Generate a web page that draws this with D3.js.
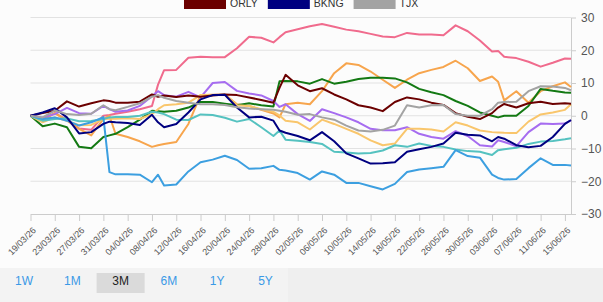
<!DOCTYPE html>
<html>
<head>
<meta charset="utf-8">
<script src="https://cdn.jsdelivr.net/npm/d3@7"></script>
<style>
body { margin: 0; background: #fcfcfc; font-family: "Liberation Sans", Arial, sans-serif; }
</style>
</head>
<body>
<script>
// day offsets from 19/03/26 (shared by every series)
var dayOffsets = [0,2,4,6,8,10,12,13,14,16,18,20,21,22,24,26,28,30,32,34,36,38,40,41,42,44,46,48,50,52,54,56,58,60,62,64,66,68,70,72,74,76,77,78,80,82,84,86,88,89];

// % change series
var pinkVals   = [0,-1,0.8,-1.2,-3.9,-4.3,0,0.2,0.6,1.2,2,3,9.5,13.9,14,17.7,18,17.9,17.9,20.6,24.1,23.8,22.4,24,25.5,26.4,27.3,28,27.2,26.3,25.8,25,24.2,24,25.3,24.8,24.8,24.6,27.6,25.8,23,19.6,19.8,18,17.6,16.5,15,16.2,17.5,17.4];
var orangeVals = [0,-1.5,0.8,-1.5,-4,-6,-1,0,-5.5,-6.5,-7.8,-9.5,-9,-8.6,-8,-2.5,6.3,6.4,6.5,3.5,3,1.8,0.7,-0.5,3.5,4,3.5,7.5,13,16,15.5,13.5,11,8.5,11,13,14,14.9,16.8,14.5,10.6,12,10.4,4.7,7.5,4,7.5,9,10.2,8.8];
var greenVals  = [0,-3.2,-2.4,-3.5,-9.5,-9.9,-6.5,-6,-5.5,-3.5,-1.2,1.5,1.4,1.2,1.5,2.5,4.2,4.2,3.7,3.2,3.8,3.2,2.8,10.5,10.6,10.5,9.8,11.2,9.8,10.4,11.2,11.6,11.6,11.4,10.2,8.2,7.2,6.3,4.5,3,1,0,-0.5,0,0,3,8.2,7.6,7.1,7];
var purpleVals = [0,-0.5,0.5,2.4,0.8,0.6,3,2,1.2,1.6,3,6,7.5,6.3,5.8,7.3,5.6,10,10.3,7.6,6.8,6.2,4.5,2.7,3.5,0.5,-1.6,2,0.8,-0.5,-2,-4,-4.4,-4.4,-3.5,-5.5,-6.5,-7,-4.7,-6.2,-9,-9.4,-7.5,-8,-9.3,-5,-2.4,-2.5,-2.4,-1.4];
var yellowVals = [0,-2,-0.5,-1.5,-2.9,-2.8,-1,-0.9,-0.9,-0.8,-1,0.5,2,3.2,3.5,4,6.3,6.3,6.4,3.2,3,2,1.2,0.1,-1.5,-2,-4.2,-1.2,-2.5,-4,-5.5,-7.5,-9,-8.5,-4,-4,-4.2,-4.8,-2,-3,-4.5,-5,-5.1,-5.2,-5.3,-1.8,0.4,1,1.8,3.5];
var tealVals   = [0,-1.5,-1,-0.8,-1.7,-1.6,-1,-0.5,-0.4,-0.4,0,1.2,1,0.5,-1.2,-1.3,0.4,0.2,-0.6,-1.8,-1,-3.5,-6.2,-4.5,-7.3,-7.6,-8,-8.6,-11,-11.2,-11.5,-11.4,-10.6,-9,-9.5,-8.5,-9.2,-9.5,-10.3,-10.8,-11,-12,-10.5,-10.2,-9.8,-8.6,-7.9,-7.7,-7.2,-6.9];
var blueVals   = [0,-1,-0.5,-1.5,-3,-2,-0.4,-17.2,-17.9,-17.9,-18,-20.3,-18,-21.3,-21,-17,-14.2,-13.4,-12.2,-13.5,-16.2,-16,-15.3,-16.5,-16.7,-17.5,-19.5,-17,-18,-20.5,-20.5,-21.5,-22.5,-20.8,-17.2,-16.4,-16,-15.6,-10.5,-12.3,-12.8,-18,-19,-19.5,-19.3,-16,-13,-15,-15,-15.2];
var orlyVals   = [0,0.8,1.5,4.4,2.8,3.8,4.7,4.5,4,4,4.3,6.5,5.8,6.2,5.7,6.2,5.8,6.2,6.5,6.3,5.6,4.8,4,8.5,12.5,9.3,7.5,8.4,6.5,5,3.2,2.5,1.4,4.2,5.6,5,4,3.3,0.8,-0.3,-1,0.8,2.5,3.6,2.5,3.8,4.3,3.6,3.8,3.7];
var bkngVals   = [0,1,2.3,-0.5,-5.4,-5,-2.5,-1.8,-2,-2.2,-2.8,0.3,-2,-3.5,-2.5,1,5,6.3,6.4,2.5,-0.5,-0.3,-1.5,-4.5,-5.2,-6.2,-7.5,-5,-7.8,-11.5,-13,-14.6,-14.5,-14.2,-11,-10.2,-9.5,-8.5,-5.2,-5.8,-6,-7.8,-6.5,-7,-9,-9.6,-9.2,-6.5,-2.5,-1.3];
var tjxVals    = [0,-0.5,1.6,0.5,0.2,0.6,3.2,2,1.7,2.7,3.8,5.8,6.3,5.5,4.5,4,3.5,3.5,3.3,2.6,2.2,2,1.8,1.5,1.2,0.3,0.5,-0.5,-1.2,-3,-4.5,-4.8,-4.3,-3,3.2,2.5,3.2,3.3,0.5,0,0,2,4,4.2,4.3,7.5,9,8.9,8.5,7.8];

var seriesNames  = ["s1","s2","s3","s4","s5","s6","s7","ORLY","BKNG","TJX"];
var seriesColors = ["#f06b8d","#f7a54d","#137913","#a66cf0","#f9c66c","#55c2c0","#3c9fe0","#6b0000","#000080","#a3a3a3"];
var seriesVals   = [pinkVals,orangeVals,greenVals,purpleVals,yellowVals,tealVals,blueVals,orlyVals,bkngVals,tjxVals];

var legendNames = ["ORLY","BKNG","TJX"];
var yTicks = [-30,-20,-10,0,10,20,30];
var rangeButtons = ["1W","1M","3M","6M","1Y","5Y"];
var selectedButton = "3M";

var startDate = new Date(2026, 2, 19);
var endDate = d3.timeDay.offset(startDate, 89);

var svg = d3.select("body").append("svg")
    .attr("width", 603)
    .attr("height", 302)
    .style("display", "block")

var x = d3.scaleTime().domain([startDate, endDate]).range([30.5, 571])
var y = d3.scaleLinear().domain([-30, 30]).range([214, 17.5])

// bottom band with range buttons
svg.append("rect").attr("x", 0).attr("y", 268).attr("width", 603).attr("height", 34).attr("fill", "#efefef")
svg.append("rect").attr("x", 0).attr("y", 268).attr("width", 288).attr("height", 34).attr("fill", "#f3f3f3")

// grid
svg.append("g").selectAll("line").data(yTicks.filter(function(d){ return d > -30 })).enter().append("line")
    .attr("x1", 30.5).attr("x2", 571)
    .attr("y1", function(d){ return y(d) }).attr("y2", function(d){ return y(d) })
    .attr("stroke", "#e2e2e2").attr("stroke-width", 1)

// right axis
var yAxis = svg.append("g")
    .attr("transform", "translate(571,0)")
    .call(d3.axisRight(y).tickValues(yTicks).tickSize(5).tickSizeOuter(0).tickPadding(5))
yAxis.select(".domain").attr("stroke", "#cccccc")
yAxis.selectAll(".tick line").attr("stroke", "#cccccc")
yAxis.selectAll("text").attr("fill", "#555").style("font-size", "12px").style("font-family", "Liberation Sans, Arial, sans-serif")

// bottom axis, a tick every 4 days
var xTickDates = []
for (i = 0; i <= 88; i += 4) {
    xTickDates.push(d3.timeDay.offset(startDate, i))
}
var xAxis = svg.append("g")
    .attr("transform", "translate(0,214)")
    .call(d3.axisBottom(x).tickValues(xTickDates).tickSize(7).tickSizeOuter(0).tickFormat(d3.timeFormat("%d/%m/%y")))
xAxis.select(".domain").attr("stroke", "#cccccc")
xAxis.selectAll(".tick line").attr("stroke", "#cccccc")
xAxis.selectAll("text")
    .attr("x", 0).attr("y", 0).attr("dy", 0)
    .attr("text-anchor", "end")
    .attr("transform", "translate(5.5,17) rotate(-45)")
    .attr("fill", "#555")
    .style("font-size", "9px")
    .style("font-family", "Liberation Sans, Arial, sans-serif")

// lines
var line = d3.line()
    .x(function(d){ return x(d3.timeDay.offset(startDate, d[0])) })
    .y(function(d){ return y(d[1]) })

for (s = 0; s < seriesVals.length; s++) {
    var pts = dayOffsets.map(function(d, k){ return [d, seriesVals[s][k]] })
    svg.append("path")
        .attr("d", line(pts))
        .attr("fill", "none")
        .attr("stroke", seriesColors[s])
        .attr("stroke-width", 2)
        .attr("stroke-linejoin", "round")
}

// legend (last row only is visible)
var lx = 184
for (i = 0; i < legendNames.length; i++) {
    var idx = seriesNames.indexOf(legendNames[i])
    svg.append("rect").attr("x", lx).attr("y", -4).attr("width", 42).attr("height", 13).attr("fill", seriesColors[idx])
    var t = svg.append("text").attr("x", lx + 46).attr("y", 7)
        .attr("fill", "#333").style("font-size", "10.5px")
        .text(legendNames[i])
    lx = lx + 46 + t.node().getComputedTextLength() + 10
}

// range buttons
for (i = 0; i < rangeButtons.length; i++) {
    var cx = 24 + i * 48.3
    if (rangeButtons[i] == selectedButton) {
        svg.append("rect").attr("x", cx - 24).attr("y", 273).attr("width", 48).attr("height", 20).attr("fill", "#dadada")
    }
    svg.append("text").attr("x", cx).attr("y", 285)
        .attr("text-anchor", "middle")
        .attr("fill", rangeButtons[i] == selectedButton ? "#222" : "#3a99e6")
        .style("font-size", "12px")
        .text(rangeButtons[i])
}
</script>
</body>
</html>
